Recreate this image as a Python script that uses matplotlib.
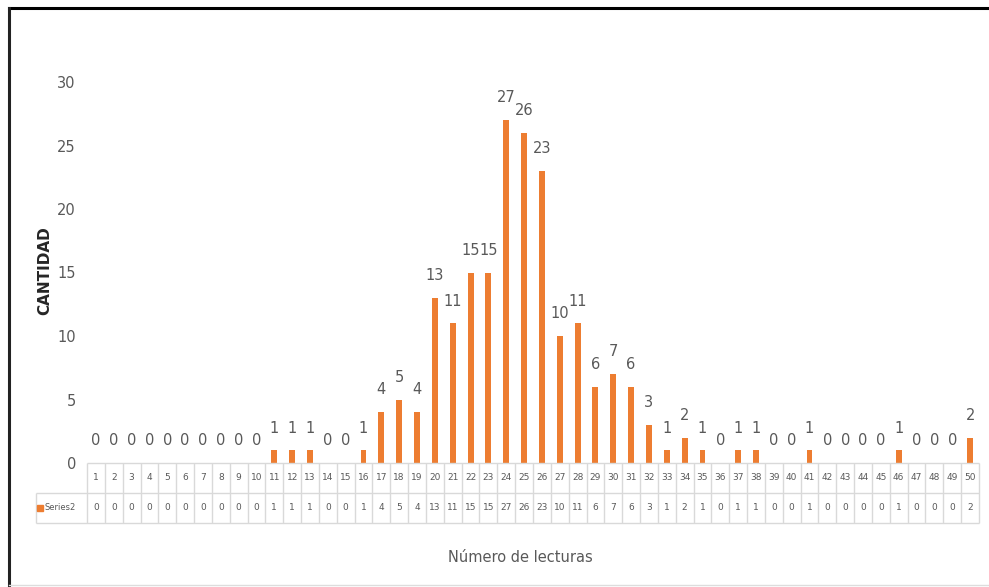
import matplotlib
matplotlib.use("Agg")
import matplotlib.pyplot as plt
from matplotlib.lines import Line2D

lecturas = list(range(1, 51))
cantidad = [0, 0, 0, 0, 0, 0, 0, 0, 0, 0,
            1, 1, 1, 0, 0, 1, 4, 5, 4, 13,
            11, 15, 15, 27, 26, 23, 10, 11, 6, 7,
            6, 3, 1, 2, 1, 0, 1, 1, 0, 0,
            1, 0, 0, 0, 0, 1, 0, 0, 0, 2]
serie = "Series2"
y_ticks = [0, 5, 10, 15, 20, 25, 30]

naranja = "#ED7D31"
gris = "#595959"
linea = "#D9D9D9"
plt.rcParams["font.family"] = ["Liberation Sans Narrow", "DejaVu Sans"]

W, H = 989, 587
fig = plt.figure(figsize=(W / 100, H / 100), dpi=100)

# zona de barras (px): x 87..979, y 82..463
L, R = 87, 979
ax = fig.add_axes([L / W, (H - 463) / H, (R - L) / W, (463 - 82) / H])
ax.bar(lecturas, cantidad, width=0.33, color=naranja)
for x, v in zip(lecturas, cantidad):
    ax.annotate(str(v), (x, v), xytext=(0, 16), textcoords="offset points",
                ha="center", va="center", fontsize=10.5, color=gris)
ax.set_xlim(0.5, 50.5)
ax.set_ylim(0, 30)
ax.set_yticks(y_ticks)
ax.tick_params(axis="y", length=0, pad=8, labelsize=10.5, labelcolor=gris)
ax.set_xticks([])
for s in ax.spines.values():
    s.set_visible(False)

# tabla de datos debajo del eje
tax = fig.add_axes([L / W, (H - 523) / H, (R - L) / W, (523 - 463) / H], sharex=ax)
tax.set_ylim(0, 2)
tax.axis("off")
x_lab = 0.5 + (36 - L) / ((R - L) / 50)
kw = dict(color=linea, lw=1, clip_on=False)
tax.hlines(2, 0.5, 50.5, **kw)
tax.hlines([0, 1], x_lab, 50.5, **kw)
tax.vlines([i + 0.5 for i in range(51)], 0, 2, **kw)
tax.vlines(x_lab, 0, 1, **kw)
for x, v in zip(lecturas, cantidad):
    tax.text(x, 1.5, str(x), ha="center", va="center", fontsize=6.5, color=gris)
    tax.text(x, 0.5, str(v), ha="center", va="center", fontsize=6.5, color=gris)
tax.plot([x_lab + 0.25], [0.5], marker="s", ms=4, color=naranja, clip_on=False)
tax.text(x_lab + 0.45, 0.5, serie, ha="left", va="center", fontsize=6,
         color=gris, clip_on=False)

fig.text(45 / W, 1 - 271 / H, "CANTIDAD", rotation=90, ha="center", va="center",
         fontsize=11, fontweight="bold", color="#262626", family="DejaVu Sans")
fig.text(520 / W, 1 - 557 / H, "Número de lecturas", ha="center", va="center",
         fontsize=10.5, color=gris)

# marco
fig.add_artist(Line2D([9 / W, 1], [1 - 8 / H, 1 - 8 / H], color="black", lw=2.2))
fig.add_artist(Line2D([9 / W, 9 / W], [0, 1 - 8 / H], color="#222222", lw=2.2))
fig.add_artist(Line2D([9 / W, 1], [2 / H, 2 / H], color="#DDDDDD", lw=1))

fig.savefig("out.png", dpi=100)
